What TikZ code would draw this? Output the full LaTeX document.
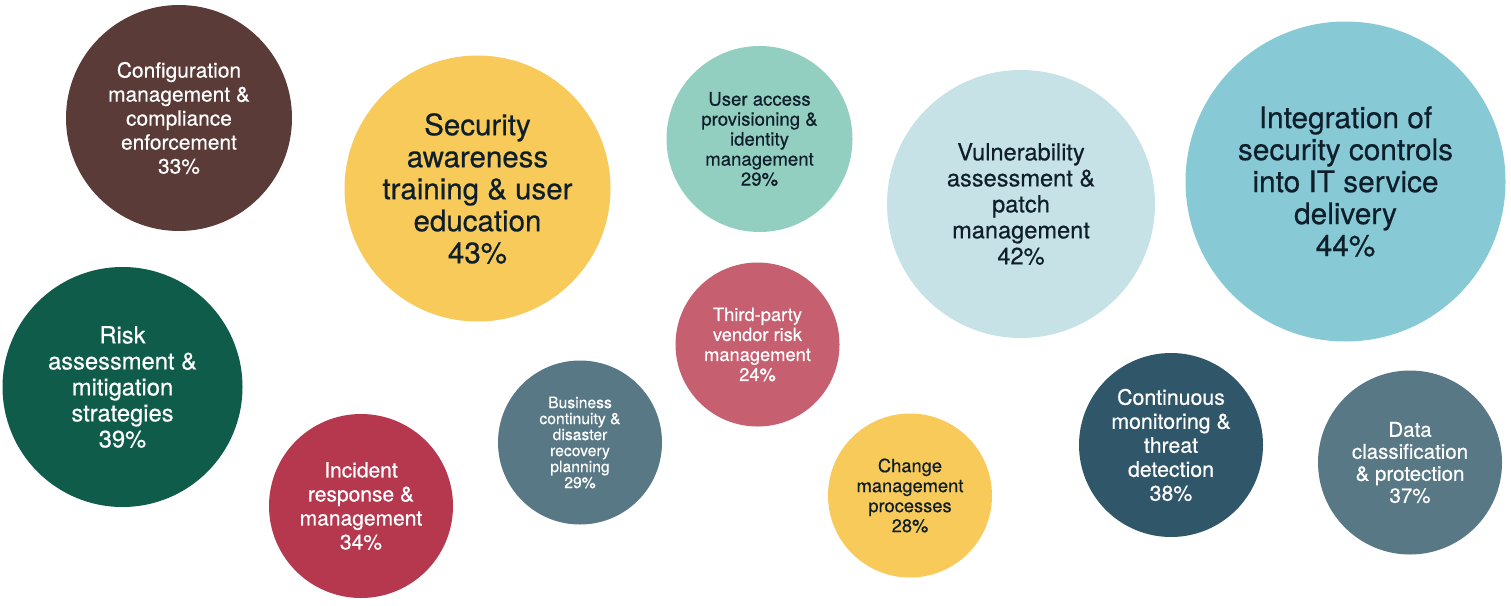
\documentclass[tikz,border=0pt]{standalone}
\usepackage{fontspec}
\setmainfont{TeX Gyre Heros}[FakeBold=0.5]
\usepackage{xcolor}
\usepackage{tikz}
\usetikzlibrary{positioning}

\definecolor{cfgbrown}{HTML}{5A3B37}
\definecolor{sunyellow}{HTML}{F7CA5A}
\definecolor{mint}{HTML}{93CFC0}
\definecolor{paleblue}{HTML}{C6E2E6}
\definecolor{tealblue}{HTML}{87CAD6}
\definecolor{forest}{HTML}{0F5C4A}
\definecolor{crimson}{HTML}{B5384F}
\definecolor{slate}{HTML}{587886}
\definecolor{rose}{HTML}{C65F70}
\definecolor{deepslate}{HTML}{30566A}
\definecolor{inkdark}{HTML}{0E1F2B}

\newcommand{\fs}[2]{\fontsize{#1}{#2}\selectfont}

\tikzset{
  bubble/.style={circle, inner sep=0pt, align=center, text=white},
  darkbubble/.style={bubble, text=inkdark}
}

\begin{document}
\begin{tikzpicture}[x=1pt,y=-1pt]
\useasboundingbox (0,0) rectangle (1511,605);
% top row
\node[bubble, fill=cfgbrown, minimum size=226pt, font=\fs{20.9}{24}] (config) at (179,118)
  {Configuration\\management \&\\compliance\\enforcement\\33\%};
\node[darkbubble, fill=sunyellow, minimum size=266pt, font=\fs{29.5}{32}] (awareness) at (477.5,188.5)
  {Security\\awareness\\training \& user\\education\\43\%};
\node[darkbubble, fill=mint, minimum size=186pt, font=\fs{18.6}{20}] (access) at (759.5,139)
  {User access\\provisioning \&\\identity\\management\\29\%};
\node[darkbubble, fill=paleblue, minimum size=268pt, font=\fs{23.6}{26}] (vulnpatch) at (1021,204)
  {Vulnerability\\assessment \&\\patch\\management\\42\%};
\node[darkbubble, fill=tealblue, minimum size=320pt, font=\fs{29.8}{32}] (integration) at (1345.5,181.5)
  {Integration of\\security controls\\into IT service\\delivery\\44\%};
% bottom row
\node[bubble, fill=forest, minimum size=240pt, font=\fs{23.7}{26}] (riskmit) at (122.5,387)
  {Risk\\assessment \&\\mitigation\\strategies\\39\%};
\node[bubble, fill=crimson, minimum size=184pt, font=\fs{21}{24}] (incident) at (361,506)
  {Incident\\response \&\\management\\34\%};
\node[bubble, fill=slate, minimum size=164pt, font=\fs{15.7}{16}] (bcdr) at (580,442.5)
  {Business\\continuity \&\\disaster\\recovery\\planning\\29\%};
\node[bubble, fill=rose, minimum size=164pt, font=\fs{18.3}{20}] (vendor) at (757.5,344.5)
  {Third-party\\vendor risk\\management\\24\%};
\node[darkbubble, fill=sunyellow, minimum size=164pt, font=\fs{18.3}{20}] (change) at (910,495.5)
  {Change\\management\\processes\\28\%};
\node[bubble, fill=deepslate, minimum size=184pt, font=\fs{21.3}{24}] (monitor) at (1171,445)
  {Continuous\\monitoring \&\\threat\\detection\\38\%};
\node[bubble, fill=slate, minimum size=184pt, font=\fs{20.5}{22}] (dataclass) at (1410,462.5)
  {Data\\classification\\\& protection\\37\%};
\end{tikzpicture}
\end{document}
